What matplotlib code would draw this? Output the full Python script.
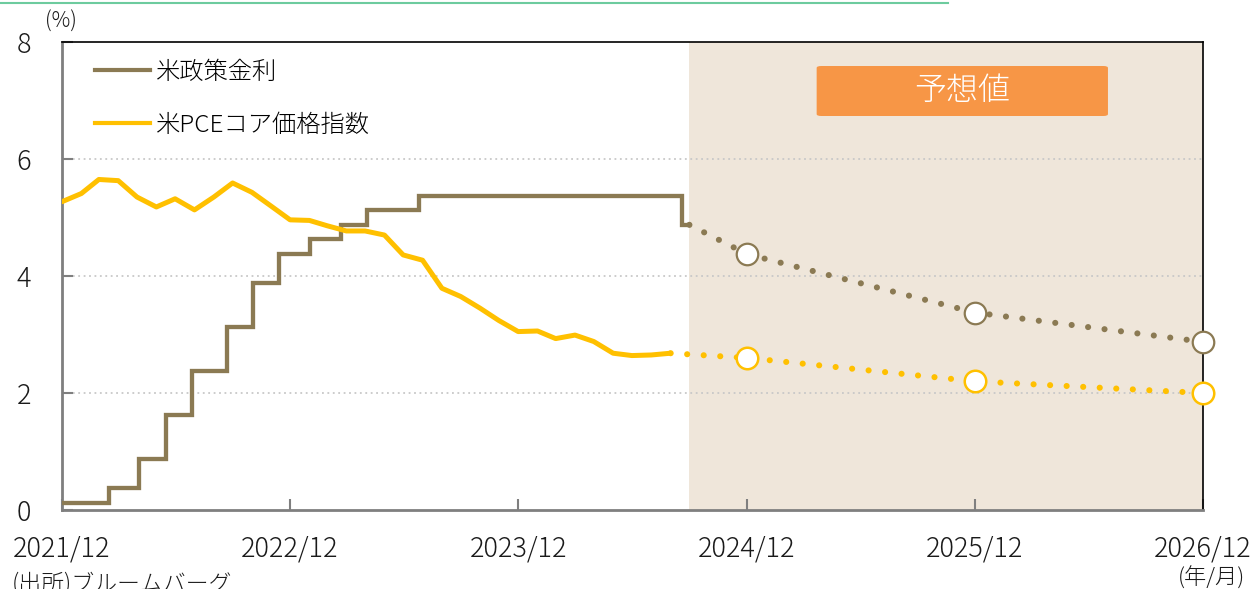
import pandas as pd
import matplotlib
matplotlib.use("Agg")
import matplotlib.pyplot as plt
from matplotlib.patches import FancyBboxPatch
from matplotlib.lines import Line2D

plt.rcParams['font.family'] = ['Noto Sans CJK JP', 'DejaVu Sans']
plt.rcParams['font.weight'] = 'light'

# ── data ──────────────────────────────────────────────────────────────────────
# 米政策金利 (誘導目標の中央値, 変更日)
fed_dates = ["2021-12-31", "2022-03-16", "2022-05-04", "2022-06-15", "2022-07-27",
             "2022-09-21", "2022-11-02", "2022-12-14", "2023-02-01", "2023-03-22",
             "2023-05-03", "2023-07-26", "2024-09-18", "2024-09-30"]
fed_rates = [0.125, 0.375, 0.875, 1.625, 2.375, 3.125, 3.875, 4.375, 4.625, 4.875,
             5.125, 5.375, 4.875, 4.875]

# 米PCEコア価格指数 (前年同月比, 月末)
pce_months = pd.date_range("2021-12-31", "2024-08-31", freq="ME")
pce_values = [5.27, 5.41, 5.65, 5.63, 5.35, 5.18, 5.32, 5.13, 5.35, 5.59, 5.43,
              5.20, 4.96, 4.95, 4.86, 4.77, 4.77, 4.70, 4.36, 4.27, 3.79, 3.65,
              3.45, 3.24, 3.05, 3.06, 2.93, 2.99, 2.88, 2.68, 2.64, 2.65, 2.68]

# 予想値
fed_fc_dates = ["2024-09-30", "2024-12-31", "2025-12-31", "2026-12-31"]
fed_fc_rates = [4.875, 4.375, 3.375, 2.875]
pce_fc_dates = ["2024-08-31", "2024-12-31", "2025-12-31", "2026-12-31"]
pce_fc_values = [2.68, 2.6, 2.2, 2.0]

forecast_start = "2024-09-30"
tick_dates = ["2021-12-31", "2022-12-31", "2023-12-31", "2024-12-31",
              "2025-12-31", "2026-12-31"]
tick_labels = ["2021/12", "2022/12", "2023/12", "2024/12", "2025/12", "2026/12"]

FED_C = "#8B7A53"
PCE_C = "#FFC000"
SHADE_C = "#EFE6DA"
BOX_C = "#F79646"
TXT_C = "#1A1A1A"

# ── plot ──────────────────────────────────────────────────────────────────────
fig = plt.figure(figsize=(12.56, 5.89), dpi=100)
ax = fig.add_axes([62/1256, 1-510/589, 1141/1256, 468/589])

ax.axvspan(pd.Timestamp(forecast_start), pd.Timestamp(tick_dates[-1]),
           color=SHADE_C, lw=0, zorder=0)

for y in [2, 4, 6]:
    ax.axhline(y, color="#C8C8C8", lw=1.3, ls=(0, (1, 2)), zorder=0.5)

fed_x = pd.to_datetime(fed_dates)
ax.step(fed_x, fed_rates, where="post", color=FED_C, lw=3.1, zorder=3,
        solid_joinstyle="miter")
ax.plot(pce_months, pce_values, color=PCE_C, lw=3.6, zorder=3,
        solid_joinstyle="round", solid_capstyle="round")

# forecast: round dotted lines + open circles
fx = pd.to_datetime(fed_fc_dates)
px = pd.to_datetime(pce_fc_dates)
ax.plot(fx, fed_fc_rates, color=FED_C, lw=4.4, ls=(0, (0.01, 2.7)),
        dash_capstyle="round", zorder=3)
ax.plot(px, pce_fc_values, color=PCE_C, lw=4.4, ls=(0, (0.01, 2.7)),
        dash_capstyle="round", zorder=3)
ax.plot(fx[1:], fed_fc_rates[1:], ls="none", marker="o", ms=15.5, mfc="white",
        mec=FED_C, mew=1.6, zorder=4, clip_on=False)
ax.plot(px[1:], pce_fc_values[1:], ls="none", marker="o", ms=15.5, mfc="white",
        mec=PCE_C, mew=1.8, zorder=4, clip_on=False)

ax.set_xlim(pd.Timestamp(tick_dates[0]), pd.Timestamp(tick_dates[-1]))
ax.set_ylim(0, 8)
ax.set_yticks([0, 2, 4, 6, 8])
ax.set_xticks(pd.to_datetime(tick_dates))
ax.set_xticklabels(tick_labels)
ax.tick_params(axis="both", direction="in", length=8, width=1.5, color="#7F7F7F",
               labelsize=19.5, labelcolor=TXT_C)
ax.tick_params(axis="y", pad=22)
ax.tick_params(axis="x", pad=18)

for s in ["left", "bottom"]:
    ax.spines[s].set_color("#7F7F7F")
    ax.spines[s].set_linewidth(2)
for s in ["top", "right"]:
    ax.spines[s].set_color("black")
    ax.spines[s].set_linewidth(1.2)

# legend
handles = [Line2D([], [], color=FED_C, lw=3.0), Line2D([], [], color=PCE_C, lw=3.0)]
ax.legend(handles, ["米政策金利", "米PCEコア価格指数"], loc="upper left",
          bbox_to_anchor=(0.029, 0.962), frameon=False, fontsize=17.5,
          handlelength=2.25, handletextpad=0.25, labelspacing=1.15,
          borderpad=0, borderaxespad=0)

# 予想値 box
box = FancyBboxPatch((0.6614, 0.8419), 0.2553, 0.1068, transform=ax.transAxes,
                     boxstyle="round,pad=0,rounding_size=0.004", fc=BOX_C, ec="none",
                     zorder=5)
ax.add_patch(box)
ax.text(0.7888, 0.8953, "予想値", transform=ax.transAxes, ha="center", va="center",
        color="white", fontsize=23, zorder=6)

fig.text(61/1256, 1-22/589, "(%)", ha="center", va="center", fontsize=15, color=TXT_C)
fig.text(1211/1256, 1-578/589, "(年/月)", ha="center", va="center", fontsize=16,
         color=TXT_C)
fig.text(12/1256, 1-571/589, "(出所)ブルームバーグ", ha="left", va="top", fontsize=16.5,
         color=TXT_C)

# cropped header rule
fig.add_artist(Line2D([0, 948/1256], [1-2.5/589, 1-2.5/589], transform=fig.transFigure,
                      color="#6DCB9E", lw=1.5))

fig.savefig("out.png", dpi=100)
